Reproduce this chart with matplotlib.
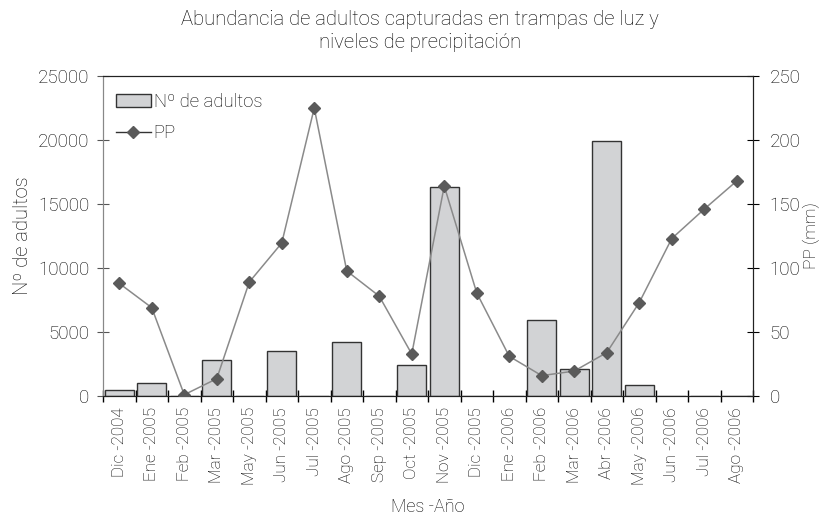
import numpy as np
import matplotlib.pyplot as plt
from matplotlib.lines import Line2D
from matplotlib.patches import Patch

plt.rcParams['font.family'] = ['Roboto', 'DejaVu Sans']
plt.rcParams['font.weight'] = 'light'
plt.rcParams['axes.labelweight'] = 'light'

meses = ['Dic -2004', 'Ene -2005', 'Feb -2005', 'Mar -2005', 'May -2005',
         'Jun -2005', 'Jul -2005', 'Ago -2005', 'Sep -2005', 'Oct -2005',
         'Nov -2005', 'Dic -2005', 'Ene -2006', 'Feb -2006', 'Mar -2006',
         'Abr -2006', 'May -2006', 'Jun -2006', 'Jul -2006', 'Ago -2006']
adultos = [500, 1000, 0, 2850, 0, 3500, 0, 4200, 0, 2450,
           16300, 0, 0, 5900, 2080, 19950, 830, 0, 0, 0]
pp = [88, 69, 1, 13.5, 89, 119.5, 225, 97.7, 78, 32.8,
      164, 80.5, 31, 15.9, 19.5, 33.9, 73, 123, 146, 168]

x = np.arange(len(meses))
txt = '#000000'

fig = plt.figure(figsize=(8.26, 5.21), dpi=100)
ax = fig.add_axes([103/826, 1-396/521, 650/826, 320/521])
ax2 = ax.twinx()

ax.bar(x, adultos, width=0.9, color='#d2d3d5', edgecolor='#333333', linewidth=1.0, zorder=2)
ax2.plot(x, pp, color='#8a8a8a', linewidth=1.1, marker='D', markersize=6.5,
         markerfacecolor='#5a5a5a', markeredgecolor='#5a5a5a', zorder=3)

ax.set_xlim(-0.5, len(meses)-0.5)
ax.set_ylim(0, 25000)
ax2.set_ylim(0, 250)
ax.set_yticks(np.arange(0, 25001, 5000))
ax2.set_yticks(np.arange(0, 251, 50))

ax.set_xticks(x)
ax.set_xticklabels(meses, rotation=90, fontsize=12.3, color=txt)
ax.set_xticks(np.arange(-0.5, len(meses), 1), minor=True)
ax.tick_params(axis='x', which='major', length=0, pad=8)
ax.tick_params(axis='x', which='minor', length=8, direction='inout', width=1.0)
ax.tick_params(axis='y', length=8, direction='inout', labelsize=13.5, labelcolor=txt,
               color='#555555', pad=6)
ax2.tick_params(axis='y', length=8, direction='inout', labelsize=13.5, labelcolor=txt, pad=8)

for a in (ax, ax2):
    a.spines['left'].set_color('#888888')
    a.spines['right'].set_color('#222222')
    a.spines['top'].set_color('#222222')
    a.spines['bottom'].set_color('#222222')

ax.set_ylabel('Nº de adultos', fontsize=14.5, color=txt, labelpad=4)
ax2.set_ylabel('PP (mm)', fontsize=12.5, color=txt, labelpad=2)
ax.set_xlabel('Mes -Año', fontsize=13, color=txt, labelpad=9)

fig.suptitle('Abundancia de adultos capturadas en trampas de luz y\nniveles de precipitación',
             x=420/826, y=1-10/521, fontsize=14.6, color=txt, linespacing=1.25,
             fontweight='light')

handles = [Patch(facecolor='#d2d3d5', edgecolor='#333333', linewidth=1.0),
           Line2D([], [], color='#333333', linewidth=1.0, marker='D', markersize=6.5,
                  markerfacecolor='#5a5a5a', markeredgecolor='#5a5a5a')]
ax2.legend(handles, ['Nº de adultos', 'PP'], loc='upper left', frameon=False,
           fontsize=13.3, handlelength=1.9, handletextpad=0.15, labelspacing=0.75,
           bbox_to_anchor=(-0.006, 1.0))

fig.savefig('out.png', dpi=100)
